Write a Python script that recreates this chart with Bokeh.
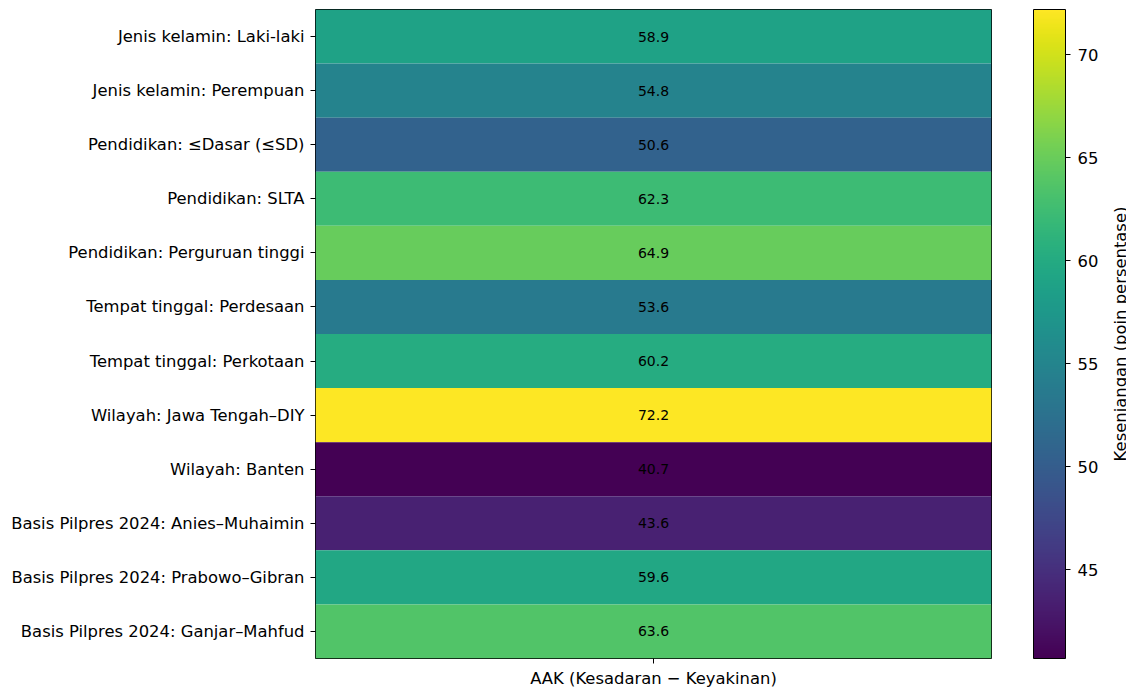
from bokeh.plotting import figure
from bokeh.layouts import row
from bokeh.models import (ColumnDataSource, LinearColorMapper, ColorBar, FixedTicker,
                          FactorRange, CategoricalAxis)
from bokeh.palettes import Viridis256
from bokeh.transform import transform
from bokeh.core.properties import value
from bokeh.embed import file_html
from bokeh.resources import INLINE

categories = [
    "Jenis kelamin: Laki-laki",
    "Jenis kelamin: Perempuan",
    "Pendidikan: ≤Dasar (≤SD)",
    "Pendidikan: SLTA",
    "Pendidikan: Perguruan tinggi",
    "Tempat tinggal: Perdesaan",
    "Tempat tinggal: Perkotaan",
    "Wilayah: Jawa Tengah–DIY",
    "Wilayah: Banten",
    "Basis Pilpres 2024: Anies–Muhaimin",
    "Basis Pilpres 2024: Prabowo–Gibran",
    "Basis Pilpres 2024: Ganjar–Mahfud",
]
column_name = "AAK (Kesadaran − Keyakinan)"
gap_values = [58.9, 54.8, 50.6, 62.3, 64.9, 53.6, 60.2, 72.2, 40.7, 43.6, 59.6, 63.6]
colorbar_ticks = [45, 50, 55, 60, 65, 70]
colorbar_label = "Kesenjangan (poin persentase)"

FONT = "DejaVu Sans"
FS = "16.4px"
FRAME_W, FRAME_H = 676, 649

source = ColumnDataSource(dict(
    x=[column_name] * len(categories),
    y=categories,
    v=gap_values,
    label=[f"{v:.1f}" for v in gap_values],
))

vmin, vmax = min(gap_values), max(gap_values)
mapper = LinearColorMapper(palette=Viridis256, low=vmin, high=vmax)

p = figure(
    x_range=FactorRange(column_name),
    y_range=FactorRange(*reversed(categories)),
    frame_width=FRAME_W, frame_height=FRAME_H,
    min_border_left=315, min_border_top=9, min_border_bottom=5, min_border_right=0,
    output_backend="svg", toolbar_location=None,
)

p.rect(x="x", y="y", width=1, height=1, source=source,
       fill_color=transform("v", mapper), line_color=None)
p.text(x="x", y="y", text="label", source=source,
       text_align="center", text_baseline="middle",
       text_font=value(FONT), text_font_size="14px", text_color="black")

p.xgrid.visible = False
p.ygrid.visible = False
p.outline_line_color = "black"
p.outline_line_width = 1
p.background_fill_color = "white"

for ax in (p.xaxis, p.yaxis):
    ax.major_label_text_font = FONT
    ax.major_label_text_font_size = FS
    ax.major_label_text_color = "black"
    ax.axis_line_color = None
    ax.major_tick_line_color = "black"
    ax.major_tick_out = 5
    ax.major_tick_in = 0
    ax.minor_tick_line_color = None
p.xaxis.major_label_standoff = 5
p.yaxis.major_label_standoff = 6


def blank_axis(**kw):
    base = dict(
        axis_line_color=None,
        major_tick_line_color=None,
        minor_tick_line_color=None,
        major_tick_in=0,
        minor_tick_out=0,
        major_label_standoff=0,
        major_label_text_font_size="0px",
        major_label_text_alpha=0,
    )
    base.update(kw)
    return CategoricalAxis(**base)


# spacer between frame and colour bar
p.add_layout(blank_axis(major_tick_out=42), "right")

cb = ColorBar(
    color_mapper=mapper,
    ticker=FixedTicker(ticks=colorbar_ticks),
    width=32,
    padding=0,
    margin=0,
    bar_line_color="black",
    bar_line_width=1,
    border_line_color=None,
    background_fill_alpha=0,
    major_tick_out=5,
    major_tick_in=0,
    major_tick_line_color="black",
    major_label_text_font=FONT,
    major_label_text_font_size=FS,
    major_label_text_color="black",
    label_standoff=7,
)
p.add_layout(cb, "right")

# small gap before the caption panel
p.add_layout(blank_axis(major_tick_out=6), "right")

# narrow companion figure that only carries the colour-bar caption (reads bottom-to-top)
cap = figure(
    x_range=(0, 1), y_range=(0, 1),
    frame_width=1, frame_height=FRAME_H,
    min_border_left=0, min_border_right=0, min_border_top=9, min_border_bottom=0,
    output_backend="svg", toolbar_location=None,
)
cap.outline_line_color = None
cap.xgrid.visible = False
cap.ygrid.visible = False
cap.xaxis.visible = False
cap.background_fill_color = "white"
cap.border_fill_color = "white"
ya = cap.yaxis[0]
ya.axis_label = colorbar_label
ya.axis_label_text_font = FONT
ya.axis_label_text_font_size = FS
ya.axis_label_text_font_style = "normal"
ya.axis_label_text_color = "black"
ya.axis_label_standoff = 0
ya.axis_line_color = None
ya.major_tick_line_color = None
ya.minor_tick_line_color = None
ya.major_tick_out = 0
ya.major_tick_in = 0
ya.minor_tick_out = 0
ya.minor_tick_in = 0
ya.major_label_standoff = 0
ya.major_label_text_font_size = "0px"
ya.major_label_text_alpha = 0
ya.ticker = FixedTicker(ticks=[])

layout = row(p, cap, spacing=0)

open("out.html", "w").write(file_html(layout, INLINE))
